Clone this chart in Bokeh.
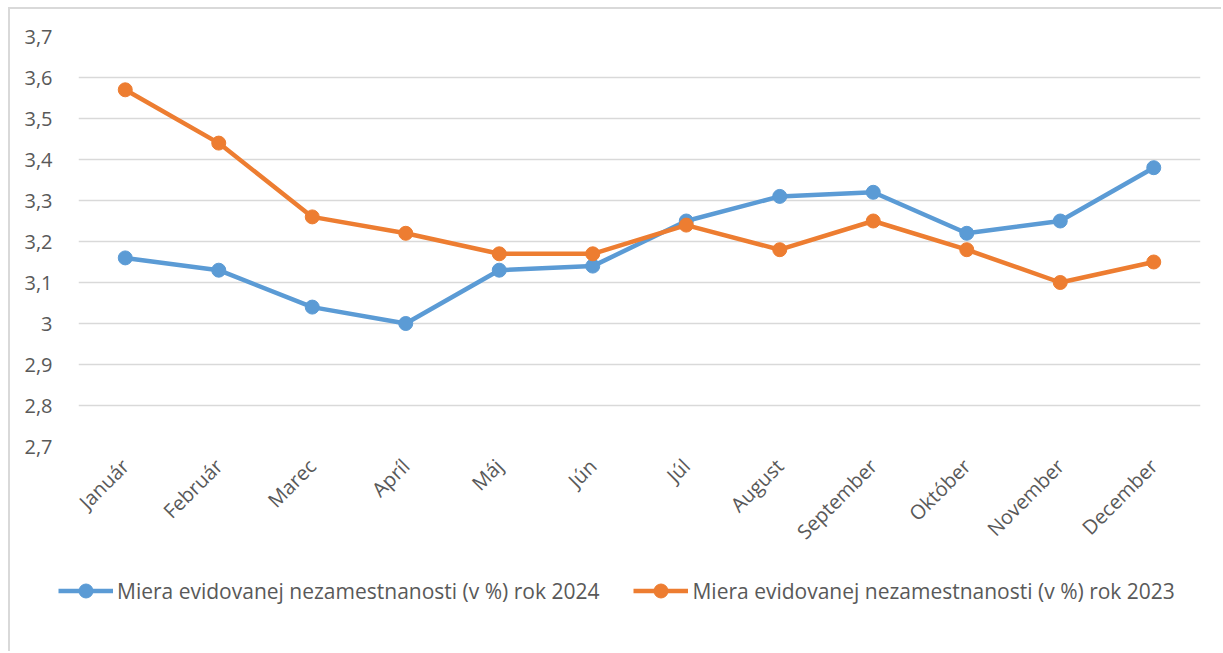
import math
from bokeh.plotting import figure
from bokeh.models import FixedTicker, CustomJSTickFormatter, Legend, LegendItem, Range1d
from bokeh.embed import file_html
from bokeh.resources import INLINE

months = ["Január", "Február", "Marec", "Apríl", "Máj", "Jún", "Júl",
          "August", "September", "Október", "November", "December"]
rate_2024 = [3.16, 3.13, 3.04, 3.00, 3.13, 3.14, 3.25, 3.31, 3.32, 3.22, 3.25, 3.38]
rate_2023 = [3.57, 3.44, 3.26, 3.22, 3.17, 3.17, 3.24, 3.18, 3.25, 3.18, 3.10, 3.15]
y_ticks = [2.7, 2.8, 2.9, 3.0, 3.1, 3.2, 3.3, 3.4, 3.5, 3.6, 3.7]
label_2024 = "Miera evidovanej nezamestnanosti (v %) rok 2024"
label_2023 = "Miera evidovanej nezamestnanosti (v %) rok 2023"

BLUE = "#5B9BD5"
ORANGE = "#ED7D31"
TXT = "#595959"
FONT = "Open Sans"
BORDER = "2px solid #d9d9d9"

p = figure(x_range=months, y_range=Range1d(2.7, 3.7), width=1213, height=551,
           output_backend="svg", toolbar_location=None,
           min_border_left=68, min_border_right=23, min_border_top=27, min_border_bottom=114)
p.margin = (7, 0, 0, 8)
p.styles = {"border-left": BORDER, "border-top": BORDER}
p.outline_line_color = None

p.yaxis.ticker = FixedTicker(ticks=y_ticks)
p.yaxis.formatter = CustomJSTickFormatter(code="return (Math.round(tick*10)/10).toString().replace('.', ',');")
p.yaxis.axis_line_color = None
p.yaxis.major_tick_line_color = None
p.yaxis.minor_tick_line_color = None
p.yaxis.major_label_standoff = 20
p.yaxis.major_label_text_font_size = "20px"
p.yaxis.major_label_text_color = TXT
p.yaxis.major_label_text_font = FONT

p.xaxis.axis_line_color = None
p.xaxis.major_tick_line_color = None
p.xaxis.major_label_orientation = math.pi / 4
p.xaxis.major_label_standoff = 10
p.xaxis.major_label_text_font_size = "20px"
p.xaxis.major_label_text_color = TXT
p.xaxis.major_label_text_font = FONT

p.xgrid.grid_line_color = None
p.ygrid.grid_line_color = "#d9d9d9"
p.ygrid.grid_line_width = 1.3

p.line(months, rate_2024, line_color=BLUE, line_width=4.5)
p.scatter(months, rate_2024, size=14, fill_color=BLUE, line_color=BLUE)
p.line(months, rate_2023, line_color=ORANGE, line_width=4.5)
p.scatter(months, rate_2023, size=14, fill_color=ORANGE, line_color=ORANGE)

# legend strip (same series drawn off-range so only their legend glyphs show)
lf = figure(width=1213, height=93, output_backend="svg", toolbar_location=None,
            x_range=months, y_range=Range1d(0, 1),
            x_axis_location=None, y_axis_location=None,
            min_border_left=0, min_border_right=0, min_border_top=0, min_border_bottom=0)
lf.margin = (0, 0, 0, 8)
lf.styles = {"border-left": BORDER}
lf.grid.visible = False
lf.outline_line_color = None
ll24 = lf.line(months, rate_2024, line_color=BLUE, line_width=4.5)
ls24 = lf.scatter(months, rate_2024, size=14, fill_color=BLUE, line_color=BLUE)
ll23 = lf.line(months, rate_2023, line_color=ORANGE, line_width=4.5)
ls23 = lf.scatter(months, rate_2023, size=14, fill_color=ORANGE, line_color=ORANGE)

legend = Legend(items=[LegendItem(label=label_2024, renderers=[ll24, ls24]),
                       LegendItem(label=label_2023, renderers=[ll23, ls23])],
                orientation="horizontal", location=(48, 43),
                glyph_width=55, glyph_height=35, spacing=34, label_standoff=4,
                padding=0, margin=0, border_line_color=None, background_fill_alpha=0,
                label_text_font=FONT, label_text_font_size="21px", label_text_color=TXT)
lf.add_layout(legend, "center")

open("out.html", "w").write(file_html([p, lf], INLINE))
